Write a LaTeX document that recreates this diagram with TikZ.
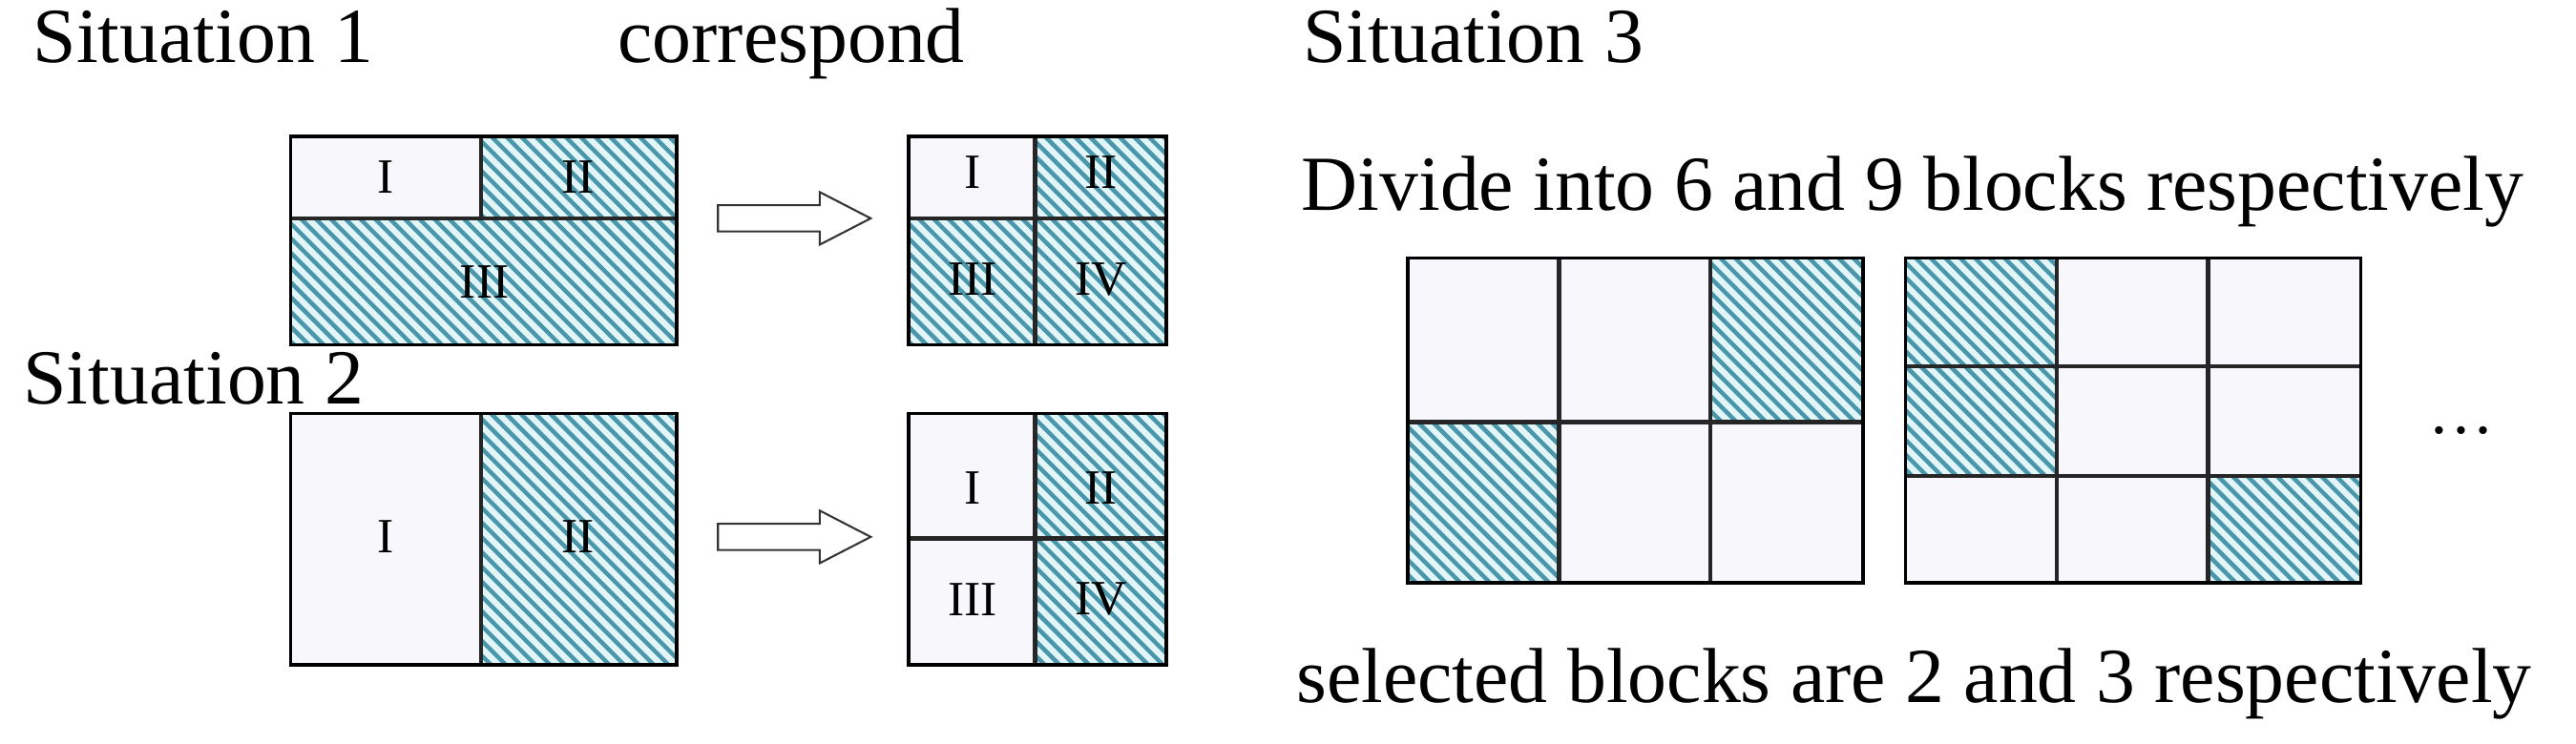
\documentclass[tikz,border=0pt]{standalone}
\usepackage{fontspec}
\setmainfont{Liberation Serif}
\definecolor{hatchbg}{HTML}{E2F6F9}
\definecolor{hatchln}{HTML}{4A97AB}
\definecolor{cellw}{HTML}{F8F8FC}
\tikzset{
  lbl/.style={font=\fontsize{47.5}{56}\selectfont, anchor=base west, inner sep=0pt},
  roman/.style={font=\fontsize{30}{36}\selectfont, inner sep=0pt},
  frame/.style={draw=black, line width=2pt},
  divider/.style={draw=black!85, line width=2.5pt},
  blockarrow/.style={draw=black!80, fill=white, line width=1.2pt},
}
\newcommand\whitebox[4]{\fill[cellw] (#1,#2) rectangle (#3,#4);}
\newcommand\hatchbox[4]{%
  \fill[hatchbg] (#1,#2) rectangle (#3,#4);
  \begin{scope}
    \clip (#1,#2) rectangle (#3,#4);
    \pgfmathsetmacro\hs{#1-300}\pgfmathsetmacro\hn{#1-291}
    \foreach \c in {\hs,\hn,...,#3} \draw[hatchln, line width=2.6pt] (\c,#2) -- ++(300,300);
  \end{scope}}
\newcommand\barrow[2]{%
  \draw[blockarrow] (#1,#2-8) -- (#1+62,#2-8) -- (#1+62,#2-16) -- (#1+93,#2) -- (#1+62,#2+16) -- (#1+62,#2+8) -- (#1,#2+8) -- cycle;}
\begin{document}
\begin{tikzpicture}[x=1pt,y=-1pt]
\useasboundingbox (0,0) rectangle (1568,452.6);
\fill[white] (0,0) rectangle (1568,452.6);
% texts
\node[lbl] (s1) at (20,38) {Situation 1};
\node[lbl] (corr) at (376,38) {correspond};
\node[lbl] (s3) at (793,38) {Situation 3};
\node[lbl] (div) at (792,128) {Divide into 6 and 9 blocks respectively};
\node[lbl] (s2) at (14,246) {Situation 2};
\node[lbl] (sel) at (789,428) {selected blocks are 2 and 3 respectively};
% Box 1
\whitebox{177}{83}{293}{133}
\hatchbox{293}{83}{412}{133}
\hatchbox{177}{133}{412}{210}
\draw[divider] (293,83) -- (293,133);
\draw[divider] (177,133) -- (412,133);
\draw[frame] (177,83) rectangle (412,210);
\node[roman] (b1i) at (235,108) {I};
\node[roman] (b1ii) at (352,108) {II};
\node[roman] (b1iii) at (295,172) {III};
\barrow{437}{133}
% Box 2
\whitebox{553}{83}{630}{133}
\hatchbox{630}{83}{710}{133}
\hatchbox{553}{133}{710}{210}
\draw[divider] (630,83) -- (630,210);
\draw[divider] (553,133) -- (710,133);
\draw[frame] (553,83) rectangle (710,210);
\node[roman] (b2i) at (592,105) {I};
\node[roman] (b2ii) at (670,105) {II};
\node[roman] (b2iii) at (592,170) {III};
\node[roman] (b2iv) at (670,170) {IV};
% Box 3
\whitebox{177}{252}{293}{405}
\hatchbox{293}{252}{412}{405}
\draw[divider] (293,252) -- (293,405);
\draw[frame] (177,252) rectangle (412,405);
\node[roman] (b3i) at (235,327) {I};
\node[roman] (b3ii) at (352,327) {II};
\barrow{437}{327}
% Box 4
\whitebox{553}{252}{630}{405}
\hatchbox{630}{252}{710}{405}
\draw[divider] (630,252) -- (630,405);
\draw[divider] (553,328) -- (710,328);
\draw[frame] (553,252) rectangle (710,405);
\node[roman] (b4i) at (592,297) {I};
\node[roman] (b4ii) at (670,297) {II};
\node[roman] (b4iii) at (592,365) {III};
\node[roman] (b4iv) at (670,365) {IV};
% Grid A (2x3)
\whitebox{857}{157}{1134}{355}
\hatchbox{1041}{157}{1134}{257}
\hatchbox{857}{257}{949}{355}
\draw[divider] (949,157) -- (949,355);
\draw[divider] (1041,157) -- (1041,355);
\draw[divider] (857,257) -- (1134,257);
\draw[frame] (857,157) rectangle (1134,355);
% Grid B (3x3)
\whitebox{1160}{157}{1437}{355}
\hatchbox{1160}{157}{1252}{290}
\hatchbox{1344}{290}{1437}{355}
\draw[divider] (1252,157) -- (1252,355);
\draw[divider] (1344,157) -- (1344,355);
\draw[divider] (1160,223) -- (1437,223);
\draw[divider] (1160,290) -- (1437,290);
\draw[frame] (1160,157) rectangle (1437,355);
\node[font=\fontsize{40}{48}\selectfont, inner sep=0pt] (dots) at (1498,262) {\dots};
\end{tikzpicture}
\end{document}
